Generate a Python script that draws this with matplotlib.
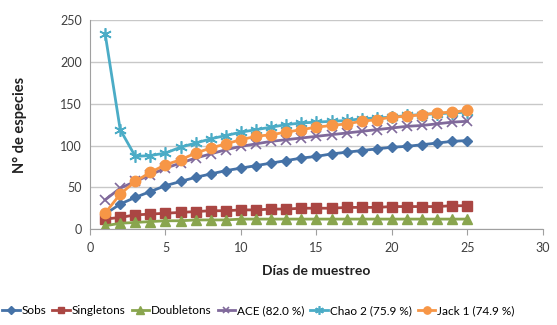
import numpy as np
import matplotlib.pyplot as plt

plt.rcParams['font.family'] = ['Lato', 'DejaVu Sans']

dias = list(range(1, 26))
sobs = [18, 30, 38, 45, 52, 57, 62, 66, 70, 73, 76, 79, 82, 85, 87, 90, 92, 94, 96, 98, 99, 101, 103, 105, 106]
singletons = [12, 14, 17, 18, 19, 20, 21, 22, 22, 23, 23, 24, 24, 25, 25, 25, 26, 26, 26, 27, 27, 27, 27, 28, 28]
doubletons = [4, 7, 8, 9, 10, 10, 11, 11, 11, 12, 12, 12, 12, 12, 12, 12, 12, 12, 12, 12, 12, 12, 12, 12, 12]
ace = [35, 49, 57, 65, 73, 79, 85, 90, 95, 99, 102, 105, 107, 109, 111, 113, 115, 117, 119, 121, 123, 124, 126, 128, 129]
chao2 = [234, 119, 87, 88, 91, 98, 103, 108, 112, 116, 119, 122, 125, 127, 128, 129, 130, 132, 133, 134, 136, 137, 138, 139, 140]
jack1 = [19, 42, 57, 68, 77, 83, 91, 97, 102, 107, 111, 113, 116, 119, 122, 124, 126, 129, 131, 134, 135, 137, 139, 140, 142]

series = [
    ("Sobs", sobs, "#4572A7", "D", 5.5),
    ("Singletons", singletons, "#AA4643", "s", 7),
    ("Doubletons", doubletons, "#89A54E", "^", 7.5),
    ("ACE (82.0 %)", ace, "#80699B", "x", 7),
    ("Chao 2 (75.9 %)", chao2, "#4BACC6", (6, 2, 0), 9),
    ("Jack 1 (74.9 %)", jack1, "#F79646", "o", 7.5),
]

fig = plt.figure(figsize=(5.57, 3.25), dpi=100)
ax = fig.add_axes([0.1616, 0.295, 0.813, 0.643])

for name, vals, col, mk, ms in series:
    thin = mk in ("x", (6, 2, 0))
    ax.plot(dias, vals, color=col, lw=2, marker=mk, markersize=ms,
            markeredgecolor=col, markeredgewidth=1.2 if thin else 1,
            label=name)

ax.set_xlim(0, 30)
ax.set_ylim(0, 250)
ax.set_xticks(range(0, 31, 5))
ax.set_yticks(range(0, 251, 50))
ax.grid(axis='y', color='#c8c8c8', lw=1)
ax.set_axisbelow(True)
for s in ['top', 'right']:
    ax.spines[s].set_visible(False)
for s in ['left', 'bottom']:
    ax.spines[s].set_color('#a0a0a0')
ax.tick_params(axis='x', direction='out', length=4, color='#a0a0a0', labelsize=9, labelcolor='#404040', pad=5)
ax.tick_params(axis='y', length=0, labelsize=9, labelcolor='#404040', pad=6)

ax.set_xlabel("Días de muestreo", fontsize=10, fontweight='bold', color='#202020', labelpad=8)
ax.set_ylabel("N° de especies", fontsize=10.5, fontweight='bold', color='#202020', labelpad=24)

fig.legend(loc='center left', bbox_to_anchor=(0.0, 0.045), ncol=6, frameon=False,
           fontsize=8.5, handlelength=1.5, handletextpad=0.15, columnspacing=0.5,
           markerscale=0.7, borderaxespad=0, borderpad=0.2)

fig.savefig("out.png", dpi=100)
